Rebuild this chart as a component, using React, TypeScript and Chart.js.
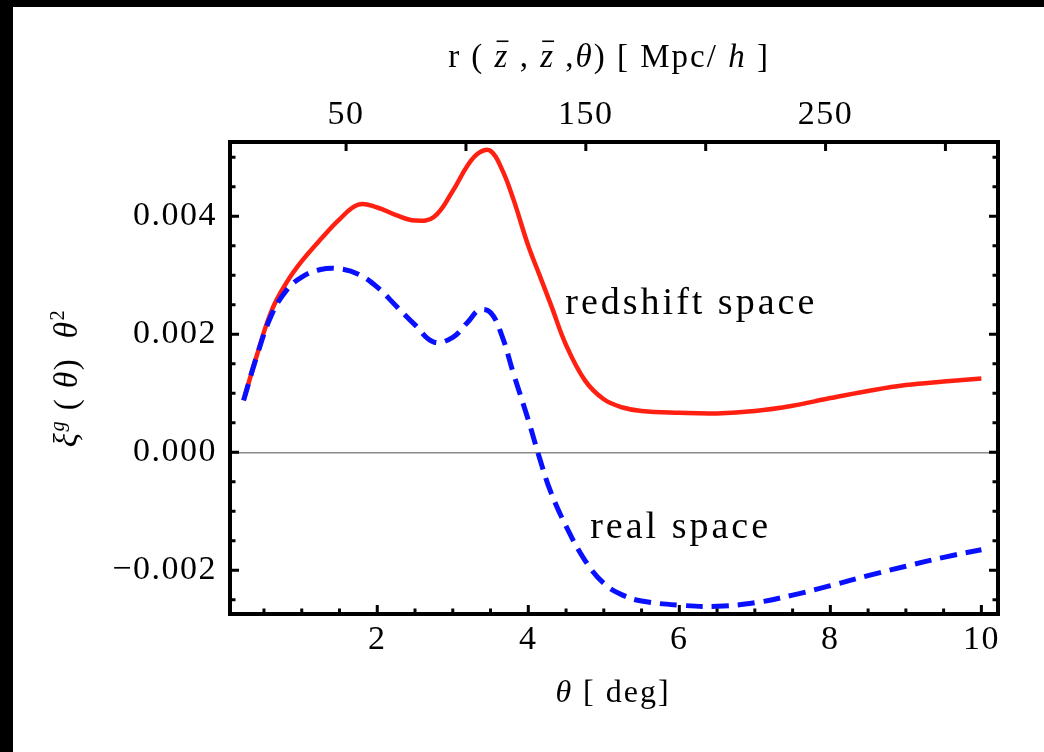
import React, { useEffect, useRef } from "react";
import { Chart, registerables } from "chart.js";

Chart.register(...registerables);

// ---------------- data ----------------
const thetaDeg = [
  0.23, 0.4, 0.6, 0.8, 1.0, 1.25, 1.5, 1.75, 2.0, 2.25, 2.5, 2.75, 3.0, 3.2, 3.35, 3.5, 3.65, 3.8,
  4.0, 4.15, 4.3, 4.5, 4.75, 5.0, 5.25, 5.5, 6.0, 6.5, 7.0, 7.5, 8.0, 8.5, 9.0, 9.5, 10.0,
];

const redshiftSpace = [
  0.00088, 0.00162, 0.0024, 0.00288, 0.00324, 0.00361, 0.00395, 0.0042, 0.00415, 0.00402, 0.00393,
  0.00399, 0.00443, 0.00487, 0.00508, 0.00511, 0.0048, 0.0043, 0.0035, 0.003, 0.0025, 0.00182,
  0.00122, 0.0009, 0.00076, 0.0007, 0.00067, 0.00066, 0.0007, 0.00079, 0.00092, 0.00104, 0.00114,
  0.0012, 0.00125,
];

const realSpace = [
  0.00088, 0.00161, 0.00233, 0.00275, 0.00297, 0.0031, 0.00311, 0.00302, 0.0028, 0.00248, 0.00216,
  0.00187, 0.00195, 0.00221, 0.00241, 0.00237, 0.00198, 0.00135, 0.00055, -0.0001, -0.00068,
  -0.00125, -0.00183, -0.00222, -0.00242, -0.00252, -0.00259, -0.00261, -0.00255, -0.00242,
  -0.00226, -0.00209, -0.00193, -0.00178, -0.00165,
];

const xTickLabels = [2, 4, 6, 8, 10];
const xMinorTicks = [
  0.5, 1, 1.5, 2, 2.5, 3, 3.5, 4, 4.5, 5, 5.5, 6, 6.5, 7, 7.5, 8, 8.5, 9, 9.5, 10,
];
const yTickLabels = [-0.002, 0, 0.002, 0.004];
const yMinorTicks = [
  -0.0025, -0.002, -0.0015, -0.001, -0.0005, 0, 0.0005, 0.001, 0.0015, 0.002, 0.0025, 0.003,
  0.0035, 0.004, 0.0045, 0.005,
];
const rTickLabels = [50, 150, 250];
const rTickMarks = [50, 100, 150, 200, 250, 300];

const seriesNames = ["redshift space", "real space"];
const MPC_PER_DEG = 31.5; // r(zbar, zbar, theta) ~ D * theta

// axis ranges
const X_MIN = 0.05;
const X_MAX = 10.22;
const Y_MIN = -0.00274;
const Y_MAX = 0.00526;

// label anchors (data coordinates)
const labelAnchors = [
  { theta: 4.49, xi: 0.00234 },
  { theta: 4.82, xi: -0.00146 },
];

const FONT = '"Liberation Serif", "Times New Roman", Times, serif';

type Seg = { t: string; it?: boolean; sup?: boolean; bar?: boolean };

function drawRich(ctx: CanvasRenderingContext2D, segs: Seg[], x: number, y: number, size: number, spacing: number) {
  ctx.letterSpacing = spacing + "px";
  const parts = segs.map((s) => {
    const fs = s.sup ? size * 0.62 : size;
    const font = `${s.it ? "italic " : ""}${fs}px ${FONT}`;
    ctx.font = font;
    const w = ctx.measureText(s.t).width;
    return { ...s, font, w, fs };
  });
  const total = parts.reduce((a, p) => a + p.w, 0);
  let cx = x - total / 2;
  ctx.textAlign = "left";
  ctx.textBaseline = "alphabetic";
  for (const p of parts) {
    ctx.font = p.font;
    const dy = p.sup ? -size * 0.4 : 0;
    ctx.fillText(p.t, cx, y + dy);
    if (p.bar) {
      ctx.save();
      ctx.lineWidth = 1.6;
      ctx.beginPath();
      ctx.moveTo(cx + 2, y - size * 0.78);
      ctx.lineTo(cx + p.w - spacing + 1, y - size * 0.78);
      ctx.stroke();
      ctx.restore();
    }
    cx += p.w;
  }
}

const framePlugin = {
  id: "framePlugin",
  beforeDraw(chart: any) {
    const { ctx, width, height } = chart;
    ctx.save();
    ctx.fillStyle = "#ffffff";
    ctx.fillRect(0, 0, width, height);
    ctx.fillStyle = "#000000";
    ctx.fillRect(0, 0, width, 7);
    ctx.fillRect(0, 0, 13, height);
    ctx.restore();
    ctx.letterSpacing = "1.5px";
  },
  afterDatasetsDraw(chart: any) {
    const { ctx, chartArea: a, scales } = chart;
    const sx = scales.x;
    const sy = scales.y;
    const sr = scales.xTop;
    ctx.save();
    ctx.strokeStyle = "#000";
    ctx.fillStyle = "#000";
    ctx.lineWidth = 3;
    ctx.lineCap = "butt";
    // bottom ticks
    for (const v of xMinorTicks) {
      const px = sx.getPixelForValue(v);
      const len = xTickLabels.includes(v) ? 9 : 5.5;
      ctx.beginPath();
      ctx.moveTo(px, a.bottom);
      ctx.lineTo(px, a.bottom - len);
      ctx.stroke();
    }
    // top ticks (r axis)
    for (const v of rTickMarks) {
      const px = sr.getPixelForValue(v);
      ctx.beginPath();
      ctx.moveTo(px, a.top);
      ctx.lineTo(px, a.top + 9);
      ctx.stroke();
    }
    // left & right ticks
    for (const v of yMinorTicks) {
      const py = sy.getPixelForValue(v);
      const major = yTickLabels.some((t) => Math.abs(t - v) < 1e-9);
      const len = major ? 9 : 5.5;
      ctx.beginPath();
      ctx.moveTo(a.left, py);
      ctx.lineTo(a.left + len, py);
      ctx.moveTo(a.right, py);
      ctx.lineTo(a.right - len, py);
      ctx.stroke();
    }
    // frame
    ctx.lineWidth = 4;
    ctx.lineJoin = "miter";
    ctx.strokeRect(a.left, a.top, a.right - a.left, a.bottom - a.top);

    // curve labels
    ctx.letterSpacing = "3px";
    ctx.font = `38px ${FONT}`;
    ctx.textAlign = "left";
    ctx.textBaseline = "alphabetic";
    seriesNames.forEach((name, i) => {
      const an = labelAnchors[i];
      ctx.fillText(name, sx.getPixelForValue(an.theta), sy.getPixelForValue(an.xi));
    });

    // axis titles
    const cxMid = (a.left + a.right) / 2;
    drawRich(
      ctx,
      [
        { t: "r ( " },
        { t: "z", it: true, bar: true },
        { t: " , " },
        { t: "z", it: true, bar: true },
        { t: " ," },
        { t: "θ", it: true },
        { t: ") [ Mpc/ " },
        { t: "h", it: true },
        { t: " ]" },
      ],
      cxMid - 5,
      67,
      33,
      2
    );
    drawRich(ctx, [{ t: "θ", it: true }, { t: " [ deg]" }], cxMid - 1, 702, 32, 2);
    ctx.save();
    ctx.translate(77, (a.top + a.bottom) / 2);
    ctx.rotate(-Math.PI / 2);
    drawRich(
      ctx,
      [
        { t: "ξ", it: true },
        { t: "g", it: true, sup: true },
        { t: " ( " },
        { t: "θ", it: true },
        { t: ")  " },
        { t: "θ", it: true },
        { t: "2", sup: true },
      ],
      0,
      0,
      33,
      1.5
    );
    ctx.restore();
    ctx.restore();
    ctx.letterSpacing = "1.5px";
  },
};

export default function App() {
  const ref = useRef<HTMLCanvasElement | null>(null);
  useEffect(() => {
    if (!ref.current) return;
    const tickFont = { family: FONT, size: 34 };
    const chart = new Chart(ref.current, {
      type: "line",
      data: {
        datasets: [
          {
            label: seriesNames[0],
            data: thetaDeg.map((t, i) => ({ x: t, y: redshiftSpace[i] })),
            borderColor: "rgb(255, 32, 18)",
            borderWidth: 4.5,
            pointRadius: 0,
            tension: 0.4,
            order: 1,
          },
          {
            label: seriesNames[1],
            data: thetaDeg.map((t, i) => ({ x: t, y: realSpace[i] })),
            borderColor: "rgb(8, 16, 255)",
            borderWidth: 5,
            borderDash: [17, 9],
            pointRadius: 0,
            tension: 0.4,
            order: 0,
          },
        ],
      },
      options: {
        animation: false,
        responsive: false,
        devicePixelRatio: 1,
        layout: { padding: { left: 0, right: 46, top: 0, bottom: 0 } },
        plugins: { legend: { display: false }, tooltip: { enabled: false } },
        scales: {
          x: {
            type: "linear",
            position: "bottom",
            min: X_MIN,
            max: X_MAX,
            afterBuildTicks: (s: any) => {
              s.ticks = xTickLabels.map((v) => ({ value: v }));
            },
            afterFit: (s: any) => {
              s.height = 138;
            },
            grid: { display: false, drawTicks: false },
            border: { display: false },
            ticks: {
              autoSkip: false,
              maxRotation: 0,
              padding: 6,
              color: "#000",
              font: tickFont,
              callback: (v: any) => String(v),
            },
          },
          xTop: {
            type: "linear",
            position: "top",
            axis: "x",
            min: X_MIN * MPC_PER_DEG,
            max: X_MAX * MPC_PER_DEG,
            afterBuildTicks: (s: any) => {
              s.ticks = rTickLabels.map((v) => ({ value: v }));
            },
            afterFit: (s: any) => {
              s.height = 142;
            },
            grid: { display: false, drawTicks: false },
            border: { display: false },
            ticks: {
              autoSkip: false,
              maxRotation: 0,
              padding: 7,
              color: "#000",
              font: tickFont,
              callback: (v: any) => String(v),
            },
          },
          y: {
            type: "linear",
            position: "left",
            min: Y_MIN,
            max: Y_MAX,
            afterBuildTicks: (s: any) => {
              s.ticks = yTickLabels.map((v) => ({ value: v }));
            },
            afterFit: (s: any) => {
              s.width = 230;
            },
            grid: {
              display: true,
              drawTicks: false,
              drawOnChartArea: true,
              lineWidth: 1.6,
              color: (c: any) => (c.tick && c.tick.value === 0 ? "#8a8a8a" : "rgba(0,0,0,0)"),
            },
            border: { display: false },
            ticks: {
              autoSkip: false,
              padding: 13,
              color: "#000",
              font: tickFont,
              callback: (v: any) => {
                const n = Number(v);
                if (n === 0) return "0.000";
                return (n < 0 ? "\u2212" : "") + Math.abs(n).toFixed(3);
              },
            },
          },
        },
      },
      plugins: [framePlugin],
    } as any);
    return () => chart.destroy();
  }, []);
  return (
    <div style={{ position: "fixed", left: 0, top: 0, width: 1044, height: 752, background: "#fff" }}>
      <canvas ref={ref} width={1044} height={752} style={{ display: "block", width: 1044, height: 752 }} />
    </div>
  );
}
